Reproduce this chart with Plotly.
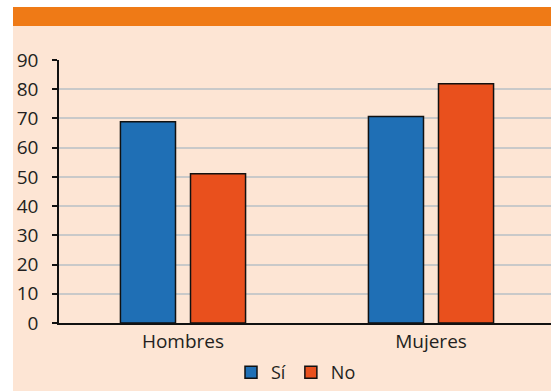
import plotly.graph_objects as go

categories = ["Hombres", "Mujeres"]
si_values = [68.9, 70.7]
no_values = [51.1, 81.9]
y_ticks = [0, 10, 20, 30, 40, 50, 60, 70, 80, 90]

W, H = 551, 391
L, R, T, B = 59, 551, 60, 323  # plot area in pixels


def px_x(p):
    return (p - L) / (R - L)


def px_y(p):
    return (B - p) / (B - T)


font = dict(family="'Open Sans', sans-serif", size=19, color="#231f20")

fig = go.Figure()
fig.add_trace(go.Bar(name="Sí", x=categories, y=si_values,
                     marker=dict(color="#1f6fb5", line=dict(color="#111111", width=1.5))))
fig.add_trace(go.Bar(name="No", x=categories, y=no_values,
                     marker=dict(color="#e9501d", line=dict(color="#111111", width=1.5))))

shapes = [
    # peach panel
    dict(type="rect", xref="paper", yref="paper", layer="below",
         x0=px_x(13), x1=px_x(560), y0=px_y(400), y1=px_y(26),
         fillcolor="#fde5d4", line=dict(width=0)),
    # orange header band
    dict(type="rect", xref="paper", yref="paper", layer="below",
         x0=px_x(13), x1=px_x(560), y0=px_y(26), y1=px_y(7),
         fillcolor="#ef7a16", line=dict(width=0)),
]

fig.update_layout(
    width=W, height=H,
    margin=dict(l=L, r=W - R, t=T, b=H - B, pad=0, autoexpand=False),
    paper_bgcolor="white",
    plot_bgcolor="rgba(0,0,0,0)",
    barmode="group",
    bargap=0.435,
    bargroupgap=0.214,
    font=font,
    shapes=shapes,
    showlegend=True,
    legend=dict(orientation="h", x=px_x(296), xanchor="center",
                y=px_y(391), yanchor="bottom",
                font=dict(family="'Open Sans', sans-serif", size=18, color="#231f20"),
                bgcolor="rgba(0,0,0,0)", itemwidth=30, traceorder="normal"),
    xaxis=dict(range=[-0.5, (R - L) / 248 - 0.5], showgrid=False,
               showline=True, linecolor="#111111", linewidth=1.5,
               ticks="", tickfont=font, fixedrange=True, automargin=False),
    yaxis=dict(range=[0, 90], tickvals=y_ticks, showgrid=True,
               gridcolor="#c9c9c9", gridwidth=1.5,
               showline=True, linecolor="#111111", linewidth=1.5,
               ticks="outside", ticklen=5, tickcolor="#111111", tickwidth=1.5,
               ticklabelstandoff=10, tickfont=font, zeroline=False,
               fixedrange=True, automargin=False),
)

fig.write_html("out.html")
